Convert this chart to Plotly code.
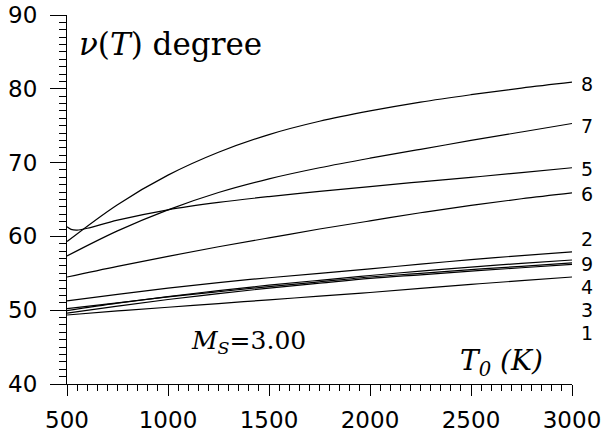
import plotly.graph_objects as go

# ---- data ----
T_common = [500, 750, 1000, 1250, 1500, 1750, 2000, 2250, 2500, 2750, 3000]
T_curve5 = [500, 520, 550, 600, 750, 1000, 1250, 1500, 1750, 2000, 2250, 2500, 2750, 3000]

nu_8 = [59.3, 64.3, 68.3, 71.4, 73.8, 75.6, 77.0, 78.2, 79.2, 80.1, 80.9]
nu_7 = [57.35, 60.75, 63.6, 65.95, 67.8, 69.3, 70.6, 71.8, 73.0, 74.15, 75.3]
nu_5 = [61.3, 60.95, 60.85, 61.1, 62.2, 63.6, 64.6, 65.4, 66.1, 66.75, 67.4, 68.0, 68.65, 69.3]
nu_6 = [54.5, 55.95, 57.3, 58.6, 59.8, 61.0, 62.1, 63.2, 64.2, 65.1, 65.9]
nu_2 = [51.25, 52.15, 53.0, 53.75, 54.4, 55.0, 55.6, 56.25, 56.85, 57.4, 57.9]
nu_9 = [49.95, 50.95, 51.85, 52.65, 53.4, 54.05, 54.7, 55.3, 55.85, 56.35, 56.8]
nu_4 = [50.2, 51.0, 51.8, 52.5, 53.2, 53.85, 54.5, 55.0, 55.5, 55.95, 56.4]
nu_3 = [49.6, 50.55, 51.45, 52.25, 53.0, 53.65, 54.3, 54.8, 55.3, 55.75, 56.2]
nu_1 = [49.35, 49.9, 50.4, 50.9, 51.4, 51.9, 52.4, 52.95, 53.5, 54.0, 54.5]

curve_names = ["8", "7", "5", "6", "2", "9", "4", "3", "1"]
series = {
    "8": (T_common, nu_8),
    "7": (T_common, nu_7),
    "5": (T_curve5, nu_5),
    "6": (T_common, nu_6),
    "2": (T_common, nu_2),
    "9": (T_common, nu_9),
    "4": (T_common, nu_4),
    "3": (T_common, nu_3),
    "1": (T_common, nu_1),
}

x_ticks = [500, 1000, 1500, 2000, 2500, 3000]
y_ticks = [40, 50, 60, 70, 80, 90]

# label placement (layout only)
label_y = {"8": 80.65, "7": 74.96, "5": 69.1, "6": 65.8, "2": 59.6,
           "9": 56.2, "4": 53.1, "3": 50.0, "1": 46.9}

fig = go.Figure()
for name in curve_names:
    xs, ys = series[name]
    fig.add_trace(go.Scatter(x=xs, y=ys, mode="lines", name=name,
                             line=dict(color="black", width=1.2, shape="spline", smoothing=1.0),
                             showlegend=False, hoverinfo="skip"))

for name in curve_names:
    fig.add_annotation(x=1, xref="paper", y=label_y[name], yref="y", text=name,
                       showarrow=False, xanchor="left", yanchor="middle", xshift=8,
                       borderpad=0,
                       font=dict(family="DejaVu Sans", size=19, color="black"))

serif = "DejaVu Serif"
fig.add_annotation(x=1010, y=86.1, xref="x", yref="y",
                   text="<i>ν</i>(<i>T</i>) degree", showarrow=False,
                   xanchor="center", yanchor="middle",
                   font=dict(family=serif, size=31, color="black"))
fig.add_annotation(x=1400, y=45.7, xref="x", yref="y",
                   text="<i>M<sub>S</sub></i>=3.00", showarrow=False,
                   xanchor="center", yanchor="middle",
                   font=dict(family=serif, size=25, color="black"))
fig.add_annotation(x=2650, y=42.9, xref="x", yref="y",
                   text="<i>T<sub>0</sub> (K)</i>", showarrow=False,
                   xanchor="center", yanchor="middle",
                   font=dict(family=serif, size=28, color="black"))

axis_common = dict(showgrid=False, zeroline=False, showline=True, linecolor="black",
                   linewidth=1, ticks="outside", tickcolor="black", tickwidth=1,
                   automargin=False,
                   tickfont=dict(family="DejaVu Sans", size=23, color="black"))

fig.update_xaxes(range=[500, 3000], tickvals=x_ticks, ticklen=11, ticklabelstandoff=4,
                 minor=dict(dtick=50, tick0=500, ticklen=6, ticks="outside",
                            tickcolor="black", tickwidth=1, showgrid=False),
                 **axis_common)
fig.update_yaxes(range=[40, 90], tickvals=y_ticks, ticklen=16, ticklabelstandoff=8,
                 minor=dict(dtick=1, tick0=40, ticklen=7, ticks="outside",
                            tickcolor="black", tickwidth=1, showgrid=False),
                 **axis_common)

fig.update_layout(width=606, height=432,
                  margin=dict(l=67, r=34, t=15, b=48, autoexpand=False),
                  plot_bgcolor="white", paper_bgcolor="white")

# remove the page's default body margin so the figure fills the window exactly
fig.write_html("out.html",
               config={"displayModeBar": False},
               post_script="document.body.style.margin='0';document.body.style.overflow='hidden';")
